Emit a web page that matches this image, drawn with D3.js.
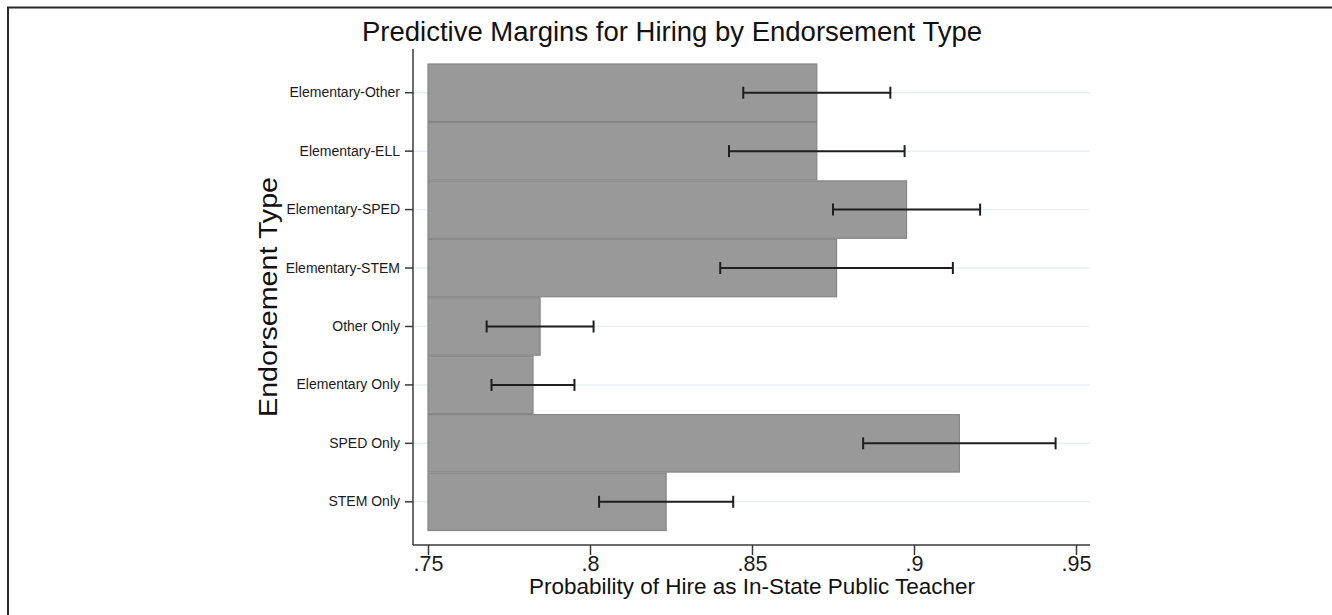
<!DOCTYPE html>
<html>
<head>
<meta charset="utf-8">
<script src="https://cdn.jsdelivr.net/npm/d3@7"></script>
<style>
  html, body { margin: 0; padding: 0; background: #fff; }
  svg { display: block; font-family: "Liberation Sans", Arial, sans-serif; }
</style>
</head>
<body>
<svg id="chart" width="1332" height="615"></svg>
<script>
// Endorsement categories, top to bottom
const categories = [
  "Elementary-Other", "Elementary-ELL", "Elementary-SPED", "Elementary-STEM",
  "Other Only", "Elementary Only", "SPED Only", "STEM Only"
];
// Predicted probability of hire (margin) for each category
const margins = [0.8700, 0.8700, 0.8977, 0.8761, 0.7846, 0.7824, 0.9140, 0.8235];
// 95% confidence interval bounds
const ciLower = [0.8473, 0.8429, 0.8750, 0.8402, 0.7681, 0.7696, 0.8843, 0.8028];
const ciUpper = [0.8927, 0.8971, 0.9204, 0.9120, 0.8011, 0.7952, 0.9437, 0.8442];
// x-axis ticks and their labels
const xTicks = [0.75, 0.80, 0.85, 0.90, 0.95];
const xTickLabels = [".75", ".8", ".85", ".9", ".95"];

const title = "Predictive Margins for Hiring by Endorsement Type";
const xTitle = "Probability of Hire as In-State Public Teacher";
const yTitle = "Endorsement Type";

const svg = d3.select("#chart");

// outer frame (top and left edges)
svg.append("path")
  .attr("d", "M8,615 V7.5 H1332")
  .attr("fill", "none")
  .attr("stroke", "#2a2a2a")
  .attr("stroke-width", 2);

const plot = { left: 413, right: 1090, top: 49, bottom: 545 };

const x = d3.scaleLinear().domain([0.75, 0.95]).range([428, 1076]);
const y = d3.scaleBand().domain(categories).range([63.5, 531]).padding(0);

// light horizontal grid lines at each category
svg.append("g")
  .selectAll("line")
  .data(categories)
  .join("line")
  .attr("x1", plot.left).attr("x2", plot.right)
  .attr("y1", d => y(d) + y.bandwidth() / 2)
  .attr("y2", d => y(d) + y.bandwidth() / 2)
  .attr("stroke", "#e9f0f2")
  .attr("stroke-width", 1.5);

// bars from the axis base (.75) to the margin
svg.append("g")
  .selectAll("rect")
  .data(categories)
  .join("rect")
  .attr("x", x(0.75))
  .attr("y", d => y(d) + 0.5)
  .attr("width", (d, i) => x(margins[i]) - x(0.75))
  .attr("height", y.bandwidth() - 1)
  .attr("fill", "#999999")
  .attr("stroke", "#858585")
  .attr("stroke-width", 1.2);

// confidence interval whiskers
const ci = svg.append("g").attr("stroke", "#1e1e1e").attr("stroke-width", 2);
const capH = 6;
categories.forEach((c, i) => {
  const cy = y(c) + y.bandwidth() / 2;
  ci.append("line").attr("x1", x(ciLower[i])).attr("x2", x(ciUpper[i]))
    .attr("y1", cy).attr("y2", cy);
  ci.append("line").attr("x1", x(ciLower[i])).attr("x2", x(ciLower[i]))
    .attr("y1", cy - capH).attr("y2", cy + capH);
  ci.append("line").attr("x1", x(ciUpper[i])).attr("x2", x(ciUpper[i]))
    .attr("y1", cy - capH).attr("y2", cy + capH);
});

// axis lines
svg.append("line")
  .attr("x1", plot.left).attr("x2", plot.left)
  .attr("y1", plot.top).attr("y2", plot.bottom)
  .attr("stroke", "#3a3a3a").attr("stroke-width", 1.5);
svg.append("line")
  .attr("x1", plot.left).attr("x2", plot.right)
  .attr("y1", plot.bottom).attr("y2", plot.bottom)
  .attr("stroke", "#3a3a3a").attr("stroke-width", 1.5);

// x axis ticks and labels
const xAxis = d3.axisBottom(x)
  .tickValues(xTicks)
  .tickFormat((d, i) => xTickLabels[i])
  .tickSizeInner(10)
  .tickSizeOuter(0)
  .tickPadding(1);
const gx = svg.append("g").attr("transform", `translate(0,${plot.bottom})`).call(xAxis);
gx.select(".domain").remove();
gx.selectAll(".tick line").attr("stroke", "#3a3a3a").attr("stroke-width", 1.5);
gx.selectAll(".tick text")
  .attr("font-family", "Liberation Sans, Arial, sans-serif")
  .attr("font-size", 21.5)
  .attr("fill", "#1a1a1a");

// y axis ticks and labels
const yAxis = d3.axisLeft(y)
  .tickSizeInner(8)
  .tickSizeOuter(0)
  .tickPadding(5);
const gy = svg.append("g").attr("transform", `translate(${plot.left},0)`).call(yAxis);
gy.select(".domain").remove();
gy.selectAll(".tick line").attr("stroke", "#3a3a3a").attr("stroke-width", 1.5);
gy.selectAll(".tick text")
  .attr("font-family", "Liberation Sans, Arial, sans-serif")
  .attr("font-size", 14)
  .attr("fill", "#1a1a1a");

// titles
svg.append("text")
  .attr("x", 672).attr("y", 41)
  .attr("text-anchor", "middle")
  .attr("font-size", 27.5)
  .attr("fill", "#111")
  .text(title);

svg.append("text")
  .attr("x", (x(0.75) + x(0.95)) / 2).attr("y", 594)
  .attr("text-anchor", "middle")
  .attr("font-size", 22.5)
  .attr("fill", "#111")
  .text(xTitle);

svg.append("text")
  .attr("transform", `translate(277,${(plot.top + plot.bottom) / 2}) rotate(-90)`)
  .attr("text-anchor", "middle")
  .attr("font-size", 26)
  .attr("textLength", 240)
  .attr("lengthAdjust", "spacingAndGlyphs")
  .attr("fill", "#111")
  .text(yTitle);
</script>
</body>
</html>
